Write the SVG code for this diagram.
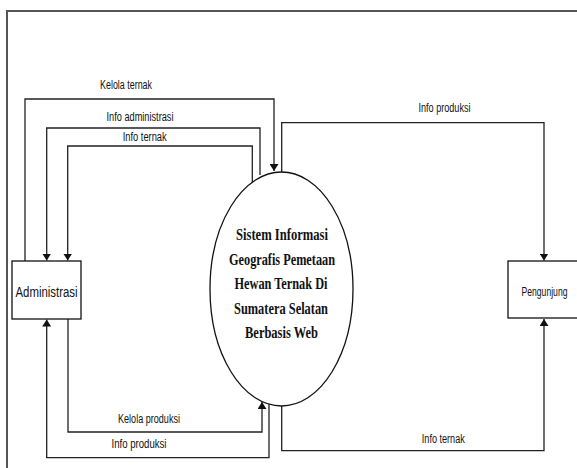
<svg xmlns="http://www.w3.org/2000/svg" width="577" height="468" viewBox="0 0 577 468">
<style>
.frame{fill:none;stroke:#555;stroke-width:2}
.node{fill:#fff;stroke:#111;stroke-width:1.3}
.flow{fill:none;stroke:#222;stroke-width:1.3}
.lbl{font-family:"Liberation Sans",Arial,sans-serif;font-size:12px;fill:#111;text-anchor:middle}
.ent{font-family:"Liberation Sans",Arial,sans-serif;font-size:14px;fill:#111;text-anchor:middle}
.proc{font-family:"Liberation Serif","Times New Roman",serif;font-weight:bold;font-size:16.5px;fill:#111;text-anchor:middle}
</style>
<defs>
<marker id="arr" viewBox="0 0 10 10" refX="10" refY="5" markerWidth="7" markerHeight="9" markerUnits="userSpaceOnUse" orient="auto" preserveAspectRatio="none">
<path d="M0,0 L10,5 L0,10 Z" fill="#111"/>
</marker>
</defs>
<rect width="577" height="468" fill="#fff"/>
<path class="frame" d="M7,468 V11 H577"/>
<g id="connectors">
<path class="flow" d="M25,261 V99 H274 V171" marker-end="url(#arr)"/>
<path class="flow" d="M260,175 V128 H46.7 V260.5" marker-end="url(#arr)"/>
<path class="flow" d="M252.3,187 V146 H67.7 V260.5" marker-end="url(#arr)"/>
<path class="flow" d="M68,319 V432 H262 V402" marker-end="url(#arr)"/>
<path class="flow" d="M269,404 V457.7 H46.7 V319.5" marker-end="url(#arr)"/>
<path class="flow" d="M281.7,172 V122.7 H544 V260.5" marker-end="url(#arr)"/>
<path class="flow" d="M281.7,406 V450.7 H544 V319" marker-end="url(#arr)"/>
<text class="lbl" x="126" y="89" textLength="52" lengthAdjust="spacingAndGlyphs">Kelola ternak</text>
<text class="lbl" x="140" y="121" textLength="67" lengthAdjust="spacingAndGlyphs">Info administrasi</text>
<text class="lbl" x="144.7" y="141" textLength="44" lengthAdjust="spacingAndGlyphs">Info ternak</text>
<text class="lbl" x="149" y="423" textLength="62" lengthAdjust="spacingAndGlyphs">Kelola produksi</text>
<text class="lbl" x="139" y="448" textLength="55" lengthAdjust="spacingAndGlyphs">Info produksi</text>
<text class="lbl" x="444.5" y="112" textLength="52" lengthAdjust="spacingAndGlyphs">Info produksi</text>
<text class="lbl" x="443.3" y="443" textLength="43" lengthAdjust="spacingAndGlyphs">Info ternak</text>
</g>
<g id="administrasi">
<rect class="node" x="12" y="261" width="69" height="58"/>
<text class="ent" x="46.5" y="297" textLength="62" lengthAdjust="spacingAndGlyphs">Administrasi</text>
</g>
<g id="pengunjung">
<rect class="node" x="508" y="261" width="70" height="57"/>
<text class="lbl" x="544.5" y="296" textLength="46" lengthAdjust="spacingAndGlyphs">Pengunjung</text>
</g>
<g id="sistem">
<ellipse class="node" cx="281.5" cy="289" rx="71.5" ry="117"/>
<text class="proc" x="282" y="240" textLength="92" lengthAdjust="spacingAndGlyphs">Sistem Informasi</text>
<text class="proc" x="282" y="264.6" textLength="106" lengthAdjust="spacingAndGlyphs">Geografis Pemetaan</text>
<text class="proc" x="281" y="289.2" textLength="93" lengthAdjust="spacingAndGlyphs">Hewan Ternak Di</text>
<text class="proc" x="281" y="313.8" textLength="94" lengthAdjust="spacingAndGlyphs">Sumatera Selatan</text>
<text class="proc" x="281.5" y="338.4" textLength="73" lengthAdjust="spacingAndGlyphs">Berbasis Web</text>
</g>
</svg>
